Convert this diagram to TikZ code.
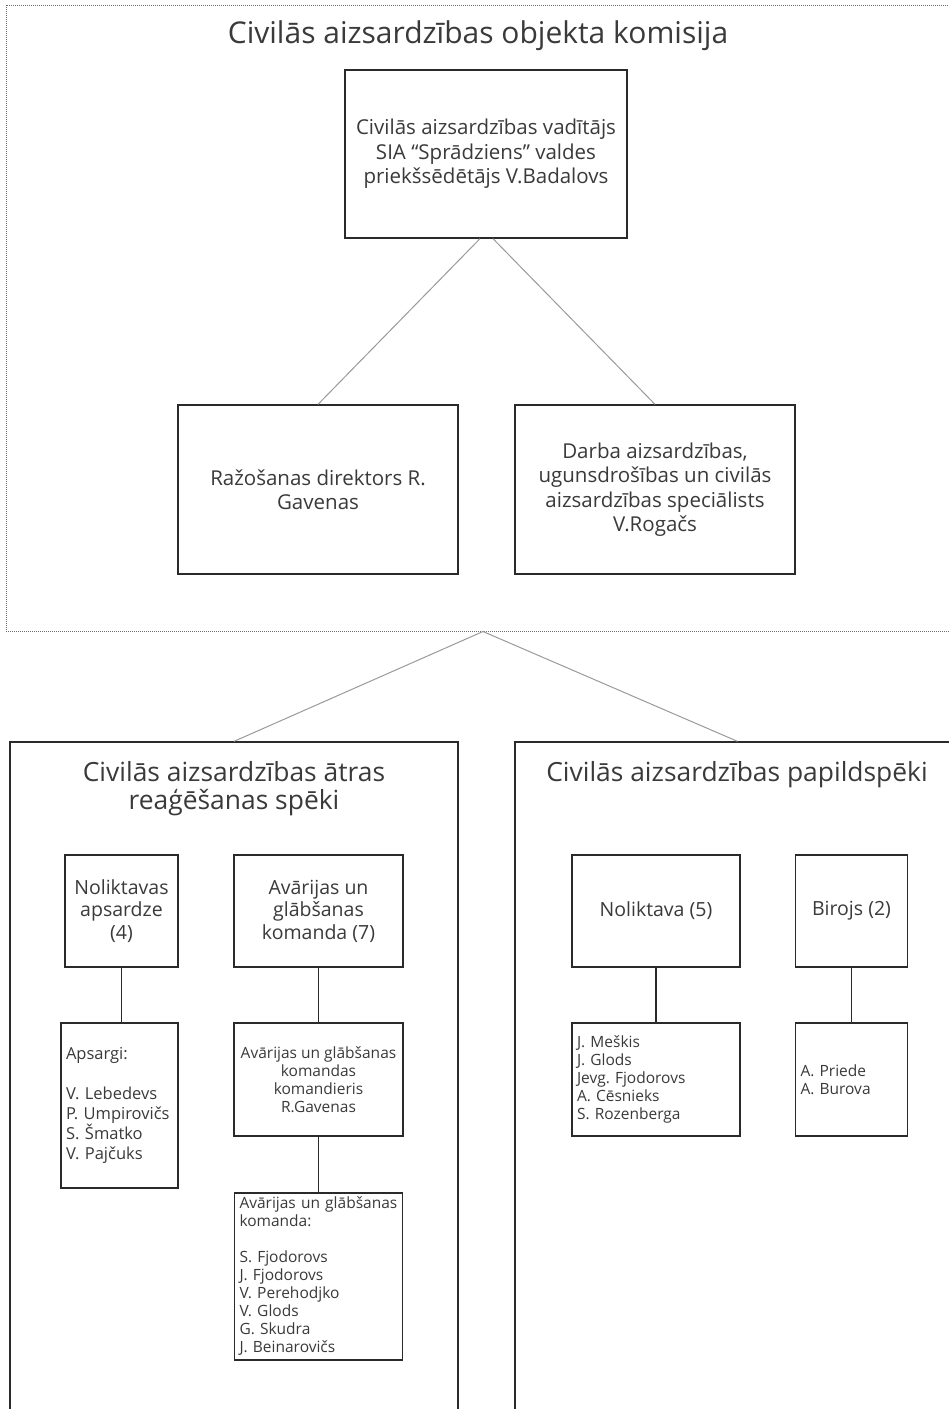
\documentclass[tikz,border=0pt]{standalone}
\usepackage{fontspec}
\setmainfont{Open Sans}
\usetikzlibrary{calc}
\definecolor{txt}{HTML}{3A3A3A}
\definecolor{frame}{HTML}{2A2A2A}
\definecolor{conn}{HTML}{9A9A9A}
\definecolor{dotc}{HTML}{6E6E6E}
\frenchspacing
\begin{document}
\begin{tikzpicture}[x=1pt,y=-1pt,
  box/.style={draw=frame, line width=1.3pt, fill=white, inner sep=0pt, text=txt, align=center},
  listbox/.style={draw=frame, line width=1.3pt, fill=white, inner xsep=5pt, inner ysep=0pt, text=txt, align=left},
  framebox/.style={draw=frame, line width=1.3pt, inner sep=0pt},
  titletext/.style={text=txt, align=center, inner sep=0pt},
  conn/.style={draw=conn, line width=1pt},
  vlink/.style={draw=frame, line width=1.3pt},
  fmain/.style={font=\fontsize{30}{34}\selectfont},
  fsub/.style={font=\fontsize{26.4}{28}\selectfont},
  fbig/.style={font=\fontsize{20.5}{24.5}\selectfont},
  fhead/.style={font=\fontsize{19.5}{22.5}\selectfont},
  flist/.style={font=\fontsize{16.5}{20}\selectfont},
  fsmall/.style={font=\fontsize{15.5}{18}\selectfont}
]
\fill[white] (0,0) rectangle (949,1409);
\useasboundingbox (0,0) rectangle (949,1409);

% outer commission frame
\node[draw=dotc, line width=1pt, dash pattern=on 1pt off 1pt, minimum width=954pt, minimum height=626pt, inner sep=0pt] (commission) at (483,318) {};
\node[titletext, fmain] (maintitle) at (478,36) {Civilās aizsardzības objekta komisija};

% top and middle boxes
\node[box, fbig, minimum width=282pt, minimum height=168pt] (top) at (486,154)
  {Civilās aizsardzības vadītājs\\SIA “Sprādziens” valdes\\priekšsēdētājs V.Badalovs};
\node[box, fbig, minimum width=280pt, minimum height=169pt] (prod) at (318,489.5)
  {Ražošanas direktors R.\\Gavenas};
\node[box, fbig, minimum width=280pt, minimum height=169pt] (spec) at (655,489.5)
  {Darba aizsardzības,\\ugunsdrošības un civilās\\aizsardzības speciālists\\V.Rogačs};

\draw[conn] ([xshift=-6pt]top.south) -- (prod.north);
\draw[conn] ([xshift=7pt]top.south) -- (spec.north);

% lower frames
\node[framebox, minimum width=448pt, minimum height=680pt] (rapid) at (234,1082) {};
\node[framebox, minimum width=445pt, minimum height=680pt] (extra) at (737.5,1082) {};
\node[titletext, fsub] (rapidtitle) at (234,789) {Civilās aizsardzības ātras\\reaģēšanas spēki};
\node[titletext, fsub] (extratitle) at (737,775) {Civilās aizsardzības papildspēki};

\draw[conn] (commission.south) -- (rapid.north);
\draw[conn] (commission.south) -- (extra.north);

% rapid response units
\node[box, fhead, minimum width=113pt, minimum height=112pt] (guard) at (121.5,911)
  {Noliktavas\\apsardze\\(4)};
\node[box, fhead, minimum width=169pt, minimum height=112pt] (rescue) at (318.5,911)
  {Avārijas un\\glābšanas\\komanda (7)};
\node[listbox, flist, text width=107pt, minimum height=165pt] (guards) at (119.5,1105.5)
  {Apsargi:\\[20pt]V. Lebedevs\\P. Umpirovičs\\S. Šmatko\\V. Pajčuks};
\node[box, fsmall, minimum width=169pt, minimum height=113pt] (commander) at (318.5,1079.5)
  {Avārijas un glābšanas\\komandas\\komandieris\\R.Gavenas};
\node[listbox, fsmall, text width=158pt, minimum height=167pt] (team) at (318.5,1276.5)
  {Avārijas un glābšanas\\komanda:\\[18pt]S. Fjodorovs\\J. Fjodorovs\\V. Perehodjko\\V. Glods\\G. Skudra\\J. Beinarovičs};

\draw[vlink] (guard.south) -- (guard.south |- guards.north);
\draw[vlink] (rescue.south) -- (commander.north);
\draw[vlink] (commander.south) -- (team.north);

% reserve units
\node[box, fhead, minimum width=168pt, minimum height=112pt] (store) at (656,911) {Noliktava (5)};
\node[box, fhead, minimum width=112pt, minimum height=112pt] (office) at (851.5,911) {Birojs (2)};
\node[listbox, fsmall, text width=158pt, minimum height=113pt] (storelist) at (656,1079.5)
  {J. Meškis\\J. Glods\\Jevg. Fjodorovs\\A. Cēsnieks\\S. Rozenberga};
\node[listbox, fsmall, text width=102pt, minimum height=113pt] (officelist) at (851.5,1079.5)
  {A. Priede\\A. Burova};

\draw[vlink] (store.south) -- (storelist.north);
\draw[vlink] (office.south) -- (officelist.north);
\end{tikzpicture}
\end{document}
